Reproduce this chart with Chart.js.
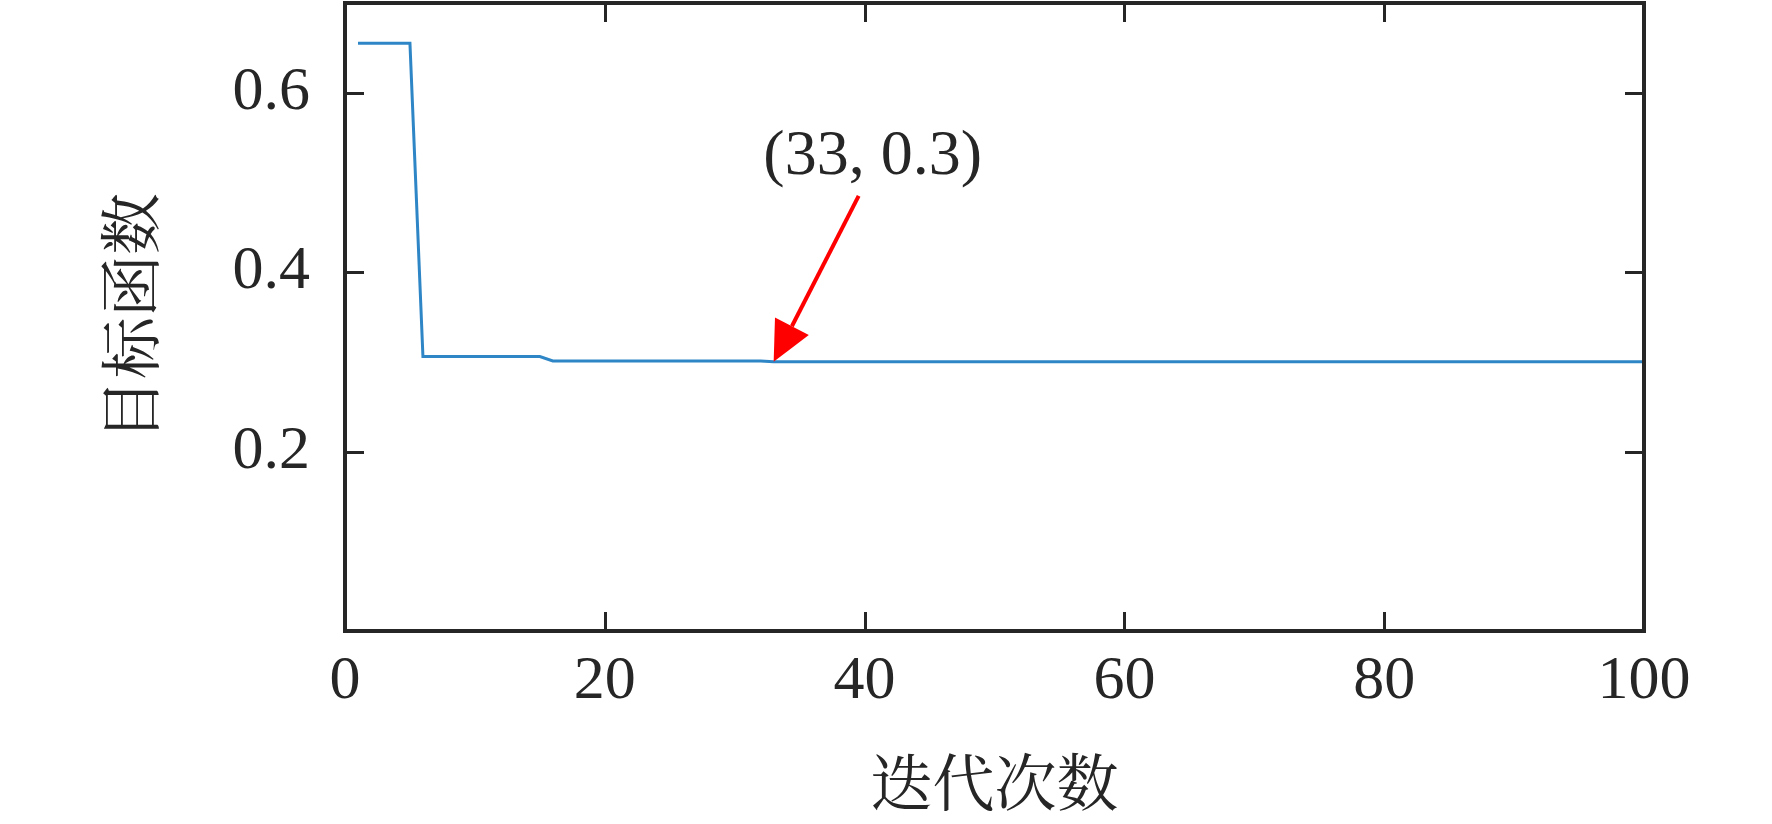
<!DOCTYPE html>
<html>
<head>
<meta charset="utf-8">
<script src="https://cdn.jsdelivr.net/npm/chart.js@4.4.1/dist/chart.umd.min.js"></script>
<style>
  html, body { margin: 0; padding: 0; background: #ffffff; }
  #wrap { width: 1772px; height: 824px; }
</style>
</head>
<body>
<div id="wrap"><canvas id="c" width="1772" height="824"></canvas></div>
<script>
// ---- data ----
const iterations = [
  1,2,3,4,5,6,7,8,9,10,11,12,13,14,15,16,17,18,19,20,
  21,22,23,24,25,26,27,28,29,30,31,32,33,34,35,36,37,38,39,40,
  41,42,43,44,45,46,47,48,49,50,51,52,53,54,55,56,57,58,59,60,
  61,62,63,64,65,66,67,68,69,70,71,72,73,74,75,76,77,78,79,80,
  81,82,83,84,85,86,87,88,89,90,91,92,93,94,95,96,97,98,99,100
];
const objective = [
  0.655,0.655,0.655,0.655,0.655,0.306,0.306,0.306,0.306,0.306,
  0.306,0.306,0.306,0.306,0.306,0.301,0.301,0.301,0.301,0.301,
  0.301,0.301,0.301,0.301,0.301,0.301,0.301,0.301,0.301,0.301,
  0.301,0.301,0.300,0.300,0.300,0.300,0.300,0.300,0.300,0.300,
  0.300,0.300,0.300,0.300,0.300,0.300,0.300,0.300,0.300,0.300,
  0.300,0.300,0.300,0.300,0.300,0.300,0.300,0.300,0.300,0.300,
  0.300,0.300,0.300,0.300,0.300,0.300,0.300,0.300,0.300,0.300,
  0.300,0.300,0.300,0.300,0.300,0.300,0.300,0.300,0.300,0.300,
  0.300,0.300,0.300,0.300,0.300,0.300,0.300,0.300,0.300,0.300,
  0.300,0.300,0.300,0.300,0.300,0.300,0.300,0.300,0.300,0.300
];
const xTicks = [0, 20, 40, 60, 80, 100];
const yTicks = [0.2, 0.4, 0.6];
const xTitle = '迭代次数';
const yTitle = '目标函数';
const annotationPoint = { x: 33, y: 0.3 };
const annotationText = '(33, 0.3)';

// ---- styling ----
const INK = '#262626';
const NUM_FONT = "'Liberation Serif', 'Times New Roman', serif";
const CJK_FONT = "'Noto Serif CJK SC', 'Noto Sans CJK SC', serif";

const points = iterations.map((x, i) => ({ x: x, y: objective[i] }));

function noPad(s) {
  s.paddingTop = 0; s.paddingBottom = 0; s.paddingLeft = 0; s.paddingRight = 0;
}

const framePlugin = {
  id: 'frame',
  afterDatasetsDraw(chart) {
    const ctx = chart.ctx;
    const a = chart.chartArea;
    const xs = chart.scales.x, ys = chart.scales.y;
    ctx.save();
    // inward ticks on all four sides
    ctx.strokeStyle = INK;
    ctx.lineWidth = 3;
    ctx.lineCap = 'butt';
    const tl = 19;
    xTicks.forEach(v => {
      const px = Math.round(xs.getPixelForValue(v)) + 0.5;
      ctx.beginPath();
      ctx.moveTo(px, a.bottom); ctx.lineTo(px, a.bottom - tl);
      ctx.moveTo(px, a.top); ctx.lineTo(px, a.top + tl);
      ctx.stroke();
    });
    yTicks.forEach(v => {
      const py = Math.round(ys.getPixelForValue(v)) + 0.5;
      ctx.beginPath();
      ctx.moveTo(a.left, py); ctx.lineTo(a.left + tl, py);
      ctx.moveTo(a.right, py); ctx.lineTo(a.right - tl, py);
      ctx.stroke();
    });
    // box
    ctx.lineWidth = 4;
    ctx.strokeRect(a.left, a.top, a.right - a.left, a.bottom - a.top);

    // annotation arrow
    const tipX = xs.getPixelForValue(annotationPoint.x);
    const tipY = ys.getPixelForValue(annotationPoint.y);
    const tailX = tipX + 85, tailY = tipY - 166;
    const ang = Math.atan2(tipY - tailY, tipX - tailX);
    const headLen = 40, headHalf = 19;
    const baseX = tipX - headLen * Math.cos(ang), baseY = tipY - headLen * Math.sin(ang);
    ctx.strokeStyle = '#ff0000';
    ctx.fillStyle = '#ff0000';
    ctx.lineWidth = 4;
    ctx.beginPath();
    ctx.moveTo(tailX, tailY); ctx.lineTo(baseX, baseY);
    ctx.stroke();
    ctx.beginPath();
    ctx.moveTo(tipX, tipY);
    ctx.lineTo(baseX + headHalf * Math.sin(ang), baseY - headHalf * Math.cos(ang));
    ctx.lineTo(baseX - headHalf * Math.sin(ang), baseY + headHalf * Math.cos(ang));
    ctx.closePath();
    ctx.fill();
    // annotation text
    ctx.fillStyle = INK;
    ctx.font = "64px " + NUM_FONT;
    ctx.textAlign = 'center';
    ctx.textBaseline = 'alphabetic';
    ctx.fillText(annotationText, tailX + 14, tailY - 22);
    ctx.restore();
  }
};

new Chart(document.getElementById('c'), {
  type: 'line',
  data: {
    datasets: [{
      data: points,
      borderColor: '#2f86c6',
      borderWidth: 3,
      pointRadius: 0,
      tension: 0,
      fill: false
    }]
  },
  options: {
    responsive: false,
    animation: false,
    devicePixelRatio: 1,
    layout: { padding: { top: 3, right: 128, left: 0, bottom: 0 } },
    plugins: { legend: { display: false }, tooltip: { enabled: false } },
    scales: {
      x: {
        type: 'linear',
        min: 0, max: 100,
        afterBuildTicks: s => { s.ticks = xTicks.map(v => ({ value: v })); },
        afterFit: s => { s.height = 193; noPad(s); },
        border: { display: false },
        grid: { display: false, drawTicks: false },
        ticks: {
          color: INK,
          padding: 14,
          maxRotation: 0,
          autoSkip: false,
          font: { family: NUM_FONT, size: 62 }
        },
        title: {
          display: true,
          text: xTitle,
          color: INK,
          font: { family: CJK_FONT, size: 62 },
          padding: { top: 0, bottom: 4 }
        }
      },
      y: {
        type: 'linear',
        min: 0, max: 0.7,
        afterBuildTicks: s => { s.ticks = yTicks.map(v => ({ value: v })); },
        afterFit: s => { s.width = 345; noPad(s); },
        border: { display: false },
        grid: { display: false, drawTicks: false },
        ticks: {
          color: INK,
          padding: 35,
          autoSkip: false,
          font: { family: NUM_FONT, size: 62 },
          callback: v => v.toFixed(1)
        },
        title: {
          display: true,
          text: yTitle,
          color: INK,
          font: { family: CJK_FONT, size: 62 },
          padding: { top: 93, bottom: 0 }
        }
      }
    }
  },
  plugins: [framePlugin]
});
</script>
</body>
</html>
